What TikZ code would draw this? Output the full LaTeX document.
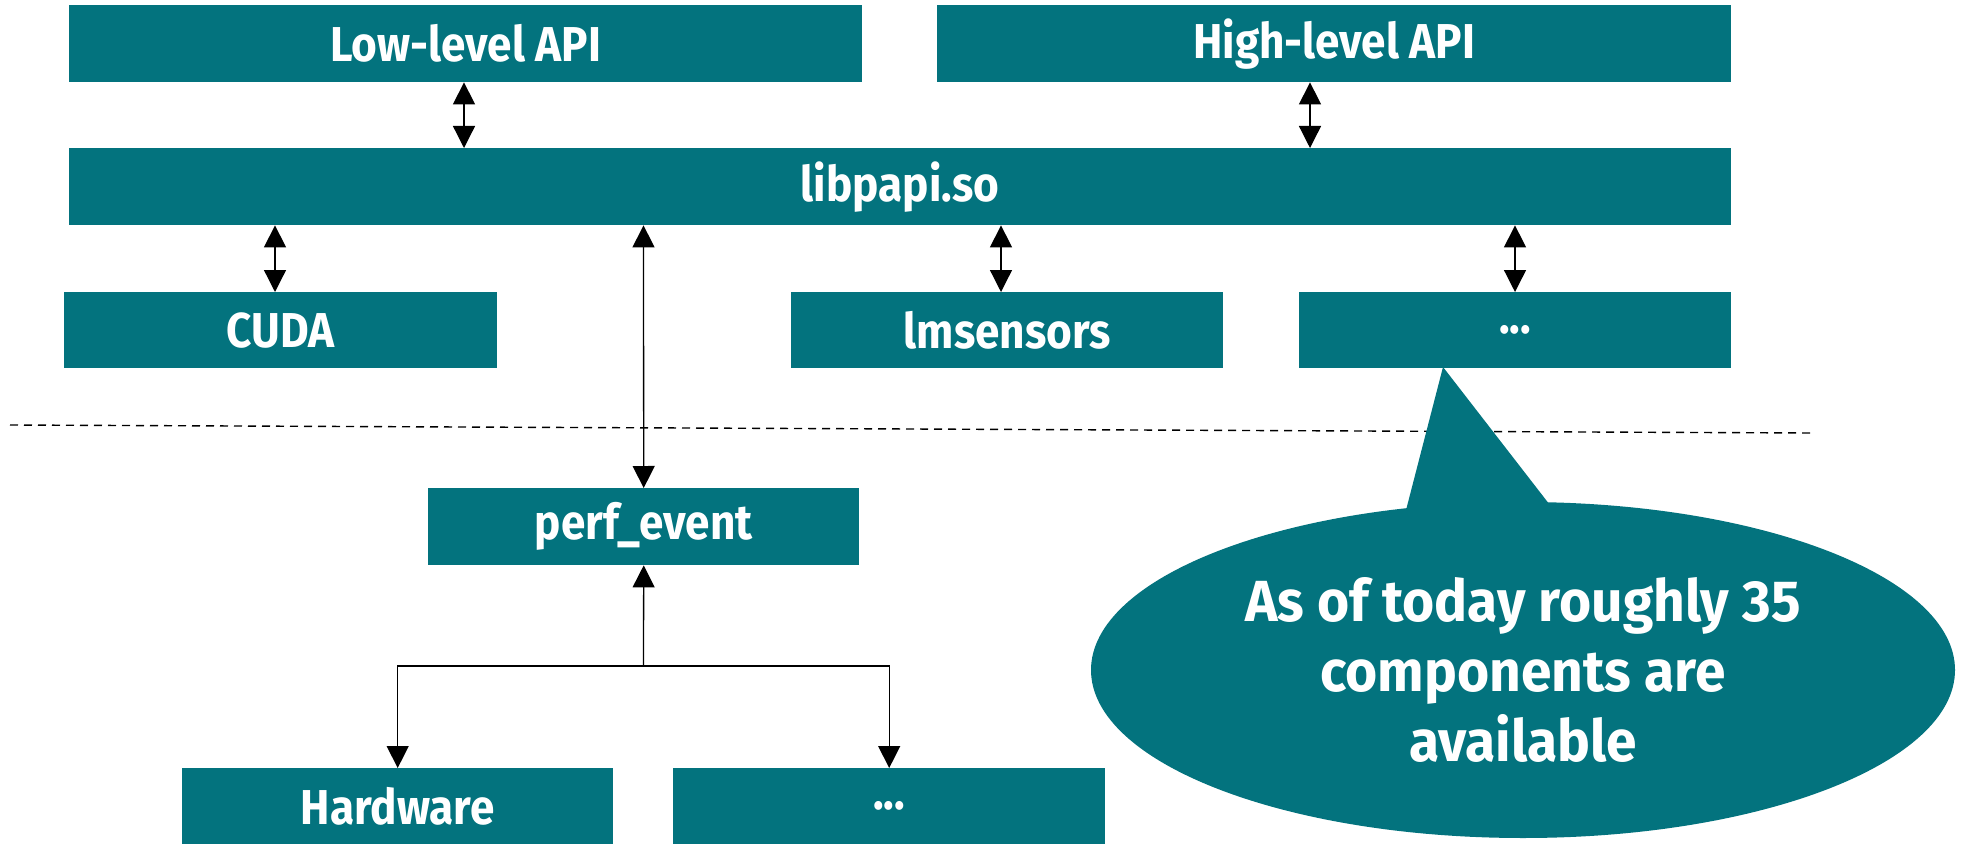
\documentclass[tikz,border=0pt]{standalone}
\usepackage{fontspec}
\setmainfont{Fira Sans}
\newfontfamily\boxfont{Fira Sans}[FakeStretch=0.9]
\newfontfamily\notefont{Fira Sans}[FakeStretch=0.95]
\usetikzlibrary{arrows.meta,shapes.geometric}
\definecolor{papiteal}{RGB}{3,115,126}
\tikzset{
  box/.style={fill=papiteal, text=white, inner sep=0pt, anchor=north west,
    font=\boxfont\fontsize{49}{58}\selectfont\bfseries},
  conn/.style={line width=1.3pt, draw=black},
  biarr/.style={conn, {Triangle[length=22pt,width=22pt]}-{Triangle[length=22pt,width=22pt]}},
  arr/.style={conn, -{Triangle[length=22pt,width=22pt]}},
  sep/.style={line width=1.4pt, dash pattern=on 8pt off 6pt},
  bubble/.style={ellipse, fill=papiteal, text=white, inner sep=0pt, align=center,
    font=\notefont\fontsize{58}{70}\selectfont\bfseries}
}
\begin{document}
\begin{tikzpicture}[x=1pt,y=-1pt]
\useasboundingbox (0,0) rectangle (1962,845);
% boxes
\node[box, minimum width=793pt, minimum height=77pt] (low) at (69,5) {Low-level API};
\node[box, minimum width=794pt, minimum height=77pt] (high) at (937,5) {High-level API};
\node[box, minimum width=1662pt, minimum height=77pt] (lib) at (69,148) {libpapi.so};
\node[box, minimum width=433pt, minimum height=76pt] (cuda) at (64,292) {CUDA};
\node[box, minimum width=432pt, minimum height=76pt] (lms) at (791,292) {lmsensors};
\node[box, minimum width=432pt, minimum height=76pt] (dots1) at (1299,292) {...};
\node[box, minimum width=431pt, minimum height=77pt] (perf) at (428,488) {perf\_event};
\node[box, minimum width=431pt, minimum height=76pt] (hw) at (182,768) {Hardware};
\node[box, minimum width=432pt, minimum height=76pt] (dots2) at (673,768) {...};
% separator
\coordinate (sepa) at (10,425);
\coordinate (sepb) at (1812,433);
\draw[sep] (sepa) -- (sepb);
% callout
\coordinate (tip) at (1443,367);
\coordinate (bl) at (1405,514);
\coordinate (br) at (1553,509);
\fill[papiteal] (tip) -- (bl) -- (br) -- cycle;
\node[bubble, minimum width=864pt, minimum height=336pt] (note) at (1523,670)
  {As of today roughly 35\\components are\\available};
% column positions
\coordinate (xlow) at (464,0);
\coordinate (xhigh) at (1310,0);
\coordinate (xcuda) at (275,0);
\coordinate (xperf) at (643.5,0);
\coordinate (xlms) at (1001,0);
\coordinate (xdots) at (1515,0);
\coordinate (branch) at (643.5,666);
% connectors
\draw[biarr] (low.south -| xlow) -- (lib.north -| xlow);
\draw[biarr] (high.south -| xhigh) -- (lib.north -| xhigh);
\draw[biarr] (lib.south -| xcuda) -- (cuda.north -| xcuda);
\draw[biarr] (lib.south -| xperf) -- (perf.north);
\draw[biarr] (lib.south -| xlms) -- (lms.north -| xlms);
\draw[biarr] (lib.south -| xdots) -- (dots1.north -| xdots);
\draw[arr] (branch) -- (perf.south);
\draw[arr] (branch) -| (hw.north);
\draw[arr] (branch) -| (dots2.north);
\end{tikzpicture}
\end{document}
